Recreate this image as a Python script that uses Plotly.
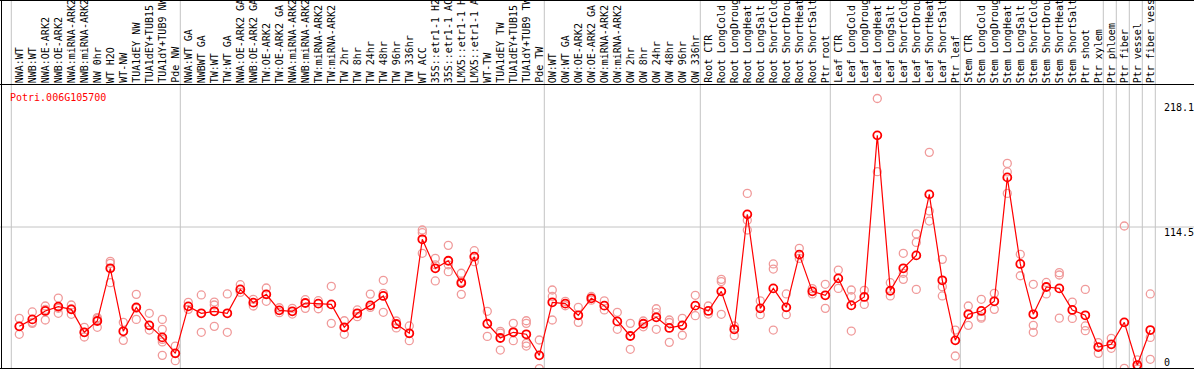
import plotly.graph_objects as go

gene = "Potri.006G105700"

labels = [
    "NWA:WT", "NWB:WT", "NWA:OE-ARK2", "NWB:OE-ARK2", "NWA:miRNA-ARK2", "NWB:miRNA-ARK2",
    "NW 0hr", "WT H2O", "WT-NW", "TUA1dEY NW", "TUA1dEY+TUB15 NW", "TUA1dY+TUB9 NW", "Pde NW",
    "NWA:WT GA", "NWBWT GA", "TW:WT", "TW:WT GA", "NWA:OE-ARK2 GA", "NWB:OE-ARK2 GA",
    "TW:OE-ARK2", "TW:OE-ARK2 GA", "NWA:miRNA-ARK2 GA", "NWB:miRNA-ARK2 GA", "TW:miRNA-ARK2",
    "TW:miRNA-ARK2 GA", "TW 2hr", "TW 8hr", "TW 24hr", "TW 48hr", "TW 96hr", "TW 336hr",
    "WT ACC", "35S::etr1-1 H2O", "35S::etr1-1 ACC", "LMX5::etr1-1 H2O", "LMX5::etr1-1 ACC",
    "WT-TW", "TUA1dEY TW", "TUA1dEY+TUB15 TW", "TUA1dY+TUB9 TW", "Pde TW",
    "OW:WT", "OW:WT GA", "OW:OE-ARK2", "OW:OE-ARK2 GA", "OW:miRNA-ARK2", "OW:miRNA-ARK2 GA",
    "OW 2hr", "OW 8hr", "OW 24hr", "OW 48hr", "OW 96hr", "OW 336hr",
    "Root CTR", "Root LongCold", "Root LongDrought", "Root LongHeat", "Root LongSalt",
    "Root ShortCold", "Root ShortDrought", "Root ShortHeat", "Root ShortSalt", "Ptr root",
    "Leaf CTR", "Leaf LongCold", "Leaf LongDrought", "Leaf LongHeat", "Leaf LongSalt",
    "Leaf ShortCold", "Leaf ShortDrought", "Leaf ShortHeat", "Leaf ShortSalt", "Ptr leaf",
    "Stem CTR", "Stem LongCold", "Stem LongDrought", "Stem LongHeat", "Stem LongSalt",
    "Stem ShortCold", "Stem ShortDrought", "Stem ShortHeat", "Stem ShortSalt", "Ptr shoot",
    "Ptr xylem",
    "Ptr phloem", "Ptr fiber", "Ptr vessel", "Ptr fiber vessel",
]

means = [
    34.4, 40.0, 46.8, 50.3, 48.1, 29.6, 38.7, 81.2, 30.4, 49.7, 35.2, 25.5, 12.6,
    50.5, 44.9, 46.5, 44.9, 64.2, 53.5, 60.2, 47.3, 46.5, 53.2, 52.7, 52.1, 33.6, 44.9,
    51.3, 58.9, 36.3, 28.8, 104.6, 81.2, 87.3, 69.3, 90.6, 36.5, 25.0, 29.6, 28.0, 11.0,
    53.8, 52.7, 43.3, 57.0, 51.1, 38.4, 26.6, 36.5, 41.7, 33.1, 35.2, 51.1,
    46.8, 62.6, 32.0, 124.7, 48.9, 65.0, 49.7, 92.2, 62.6, 59.4,
    73.1, 51.3, 58.1, 188.4, 63.1, 81.2, 91.6, 140.8, 71.5, 23.1,
    44.1, 46.8, 54.6, 154.5, 84.7, 44.1, 66.1, 65.0, 47.6, 43.3, 17.7,
    19.9, 37.6, 3.2, 31.4,
]

replicates = [
    [40.8, 28.0, 34.4], [46.0, 37.6, 36.8], [50.8, 39.5, 48.0], [57.2, 44.9, 49.0],
    [51.6, 44.1, 48.5], [33.6, 25.8, 29.5], [41.4, 33.6, 40.5], [86.8, 85.2, 69.6],
    [37.6, 23.1], [60.2, 40.0, 49.0], [44.9, 31.4, 35.2], [40.0, 32.0, 23.9, 21.8, 11.0],
    [18.5, 6.7],
    [53.8, 48.1], [59.7, 29.6], [54.0, 51.6, 34.4], [60.5, 29.6], [68.0, 61.8],
    [56.2, 50.8], [65.3, 54.6], [49.4, 45.4], [48.9, 44.3], [55.9, 48.9], [55.1, 48.6],
    [66.7, 36.8], [38.9, 28.0], [47.6, 42.2], [60.4, 49.7], [71.5, 61.0, 45.7],
    [38.7, 33.1], [34.7, 22.8], [112.1, 109.9, 93.3], [89.2, 71.0, 84.0],
    [99.7, 78.5, 84.0], [77.2, 60.2, 70.5], [95.4, 86.5], [46.5, 26.3],
    [30.4, 15.3, 29.0], [36.8, 22.8, 30.0], [38.9, 36.8, 20.7, 18.5], [23.4, 0.3],
    [63.7, 39.5, 58.5], [54.5, 51.0], [49.7, 37.6], [58.5, 55.5], [54.9, 47.6],
    [45.7, 32.0], [36.8, 15.9], [38.7, 34.0], [48.6, 45.4, 32.0], [39.5, 37.5, 21.5],
    [40.8, 27.2], [59.4, 43.0],
    [50.8, 44.3], [72.3, 70.5, 44.1], [34.7, 26.9], [141.6, 112.1, 120.0], [54.9, 43.8],
    [84.7, 80.6, 31.4], [60.5, 43.8], [97.3, 89.2], [64.8, 60.5], [68.3, 48.9],
    [79.8, 65.0], [63.7, 58.3, 30.6], [63.4, 52.1], [218.1, 159.1], [69.6, 58.9],
    [93.3, 77.2, 72.3], [108.9, 102.1, 64.2], [174.7, 127.4, 119.3], [88.4, 66.4, 58.9],
    [31.4, 10.5],
    [50.8, 35.2], [56.2, 42.0, 41.0], [61.0, 48.1], [165.8, 158.9, 141.6], [92.5, 75.2],
    [68.3, 35.2, 29.6], [69.8, 60.5], [77.7, 75.8, 41.0], [54.0, 40.8],
    [64.2, 34.7, 30.9], [21.2, 12.6],
    [24.7, 16.7], [115.3, 0.5], [7.3, 0.0], [60.5, 25.5, 7.8],
]

group_breaks = [0, 13, 41, 53, 63, 73, 84, 85, 86, 87, 88]
y_max_label = "218.1"
y_mid_label = "114.5"
y_zero_label = "0"
y_top = 229.0
max_chars = 14  # header box only has room for this many characters

FONT = "DejaVu Sans Mono"
W, H = 1194, 370
T, B = 85, 1
PH = H - T - B
top_paper = 1 + T / PH

idx = list(range(len(labels)))
rep_x, rep_y = [], []
for i, reps in enumerate(replicates):
    for v in reps:
        rep_x.append(i)
        rep_y.append(v)

fig = go.Figure()
fig.add_trace(go.Scatter(
    x=rep_x, y=rep_y, mode="markers",
    marker=dict(symbol="circle-open", size=8, color="#f09a9a", line=dict(width=1.3, color="#f09a9a")),
    hoverinfo="skip",
))
fig.add_trace(go.Scatter(
    x=idx, y=means, mode="lines",
    line=dict(color="#ff0000", width=1.2),
    hoverinfo="skip",
))
fig.add_trace(go.Scatter(
    x=idx, y=means, mode="markers",
    marker=dict(symbol="circle-open", size=8, color="#ff0000", line=dict(width=1.8, color="#ff0000")),
    hoverinfo="skip",
))

shapes = []
for k in group_breaks:
    xv = k - 0.615
    shapes.append(dict(type="line", xref="x", yref="paper", x0=xv, x1=xv, y0=0, y1=top_paper,
                       line=dict(color="#c4c4c4", width=1), layer="below"))
shapes.append(dict(type="line", xref="paper", yref="y", x0=0, x1=1, y0=y_top / 2, y1=y_top / 2,
                   line=dict(color="#c4c4c4", width=1), layer="below"))
# black frame lines
shapes.append(dict(type="line", xref="paper", yref="paper", x0=1.5 / W, x1=1.5 / W, y0=0, y1=top_paper,
                   line=dict(color="black", width=1)))
shapes.append(dict(type="line", xref="paper", yref="paper", x0=0, x1=1, y0=top_paper - 0.5 / PH,
                   y1=top_paper - 0.5 / PH, line=dict(color="black", width=1)))
shapes.append(dict(type="line", xref="paper", yref="paper", x0=0, x1=1, y0=1 + 0.5 / PH, y1=1 + 0.5 / PH,
                   line=dict(color="black", width=1)))
shapes.append(dict(type="line", xref="paper", yref="paper", x0=0, x1=1, y0=0.5 / PH, y1=0.5 / PH,
                   line=dict(color="black", width=1)))

annotations = []
for i, lab in enumerate(labels):
    shown = lab[:max_chars].rstrip()
    annotations.append(dict(
        x=i, y=1, xref="x", yref="paper", text=shown, textangle=-90, showarrow=False,
        xanchor="center", yanchor="bottom", yshift=1, borderpad=0,
        font=dict(family=FONT, size=10, color="black"),
    ))
annotations.append(dict(
    x=9 / W, y=1, xref="paper", yref="paper", text=gene, showarrow=False,
    xanchor="left", yanchor="top", yshift=-6, borderpad=0,
    font=dict(family=FONT, size=10, color="#ff0000"),
))
for txt, ypix in [(y_max_label, 107), (y_mid_label, 232), (y_zero_label, 362)]:
    annotations.append(dict(
        x=1163 / W, y=(H - B - ypix) / PH, xref="paper", yref="paper", text=txt, showarrow=False,
        xanchor="left", yanchor="middle", borderpad=0,
        font=dict(family=FONT, size=10, color="black"),
    ))

fig.update_layout(
    width=W, height=H,
    margin=dict(l=0, r=0, t=T, b=B, pad=0),
    paper_bgcolor="white", plot_bgcolor="white",
    showlegend=False,
    xaxis=dict(range=[-1.485, 90.362], showgrid=False, zeroline=False, showticklabels=False,
               showline=False, ticks="", fixedrange=True),
    yaxis=dict(range=[0, y_top], showgrid=False, zeroline=False, showticklabels=False,
               showline=False, ticks="", fixedrange=True),
    shapes=shapes,
    annotations=annotations,
)

fig.write_html(
    "out.html",
    config={"displayModeBar": False},
    post_script="document.body.style.margin='0px';document.body.style.overflow='hidden';",
)
